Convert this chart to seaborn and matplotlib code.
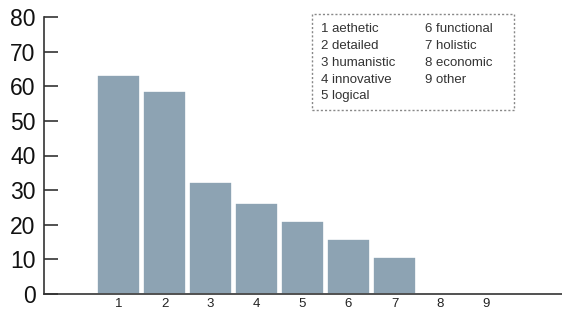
import matplotlib
matplotlib.use("Agg")
import matplotlib.pyplot as plt
from matplotlib.patches import Rectangle
import seaborn as sns
import pandas as pd

# -----------------------------
# Data
# -----------------------------
categories = ["1", "2", "3", "4", "5", "6", "7", "8", "9"]
counts = [63.2, 58.6, 32.3, 26.3, 21.1, 15.9, 10.7, 0, 0]
names = ["aethetic", "detailed", "humanistic", "innovative", "logical",
         "functional", "holistic", "economic", "other"]

df = pd.DataFrame({"category": categories, "count": counts})

# -----------------------------
# Style
# -----------------------------
sns.set_style("white")
plt.rcParams["font.family"] = ["Liberation Sans", "DejaVu Sans"]

fig = plt.figure(figsize=(5.62, 3.11), dpi=100)
ax = fig.add_axes([44 / 562, 17 / 311, (562 - 44) / 562, (294 - 17) / 311])

sns.barplot(data=df, x="category", y="count", color="#8da3b3", saturation=1,
            width=0.92, edgecolor="white", linewidth=1.2, ax=ax)

ax.set_xlim(-1.62, 9.64)
ax.set_ylim(0, 80)
ax.set_yticks(range(0, 81, 10))
ax.set_xlabel("")
ax.set_ylabel("")

for side in ["top", "right"]:
    ax.spines[side].set_visible(False)
for side in ["left", "bottom"]:
    ax.spines[side].set_color("#333333")
    ax.spines[side].set_linewidth(1.2)

ax.tick_params(axis="y", left=True, direction="in", length=10, width=1.2,
               color="#333333", labelsize=16.5, labelcolor="#111111", pad=6)
ax.tick_params(axis="x", bottom=False, length=0, labelsize=9.5,
               labelcolor="#222222", pad=3)

# -----------------------------
# Legend box (manual, two columns)
# -----------------------------
box_x0, box_y0 = 312 / 562, 1 - 110 / 311
box_w, box_h = (514 - 312) / 562, (110 - 14) / 311
fig.patches.append(Rectangle((box_x0, box_y0), box_w, box_h, transform=fig.transFigure,
                             fill=False, edgecolor="#888888", linestyle=(0, (1.5, 1.5)),
                             linewidth=1.0))

row_y = [29, 46, 63, 80, 96]
for i, (cat, name) in enumerate(zip(categories, names)):
    col_x = 321 if i < 5 else 425
    y = row_y[i % 5]
    fig.text(col_x / 562, 1 - y / 311, f"{cat} {name}", fontsize=9.5,
             color="#333333", va="center", ha="left")

fig.savefig("out.png", dpi=100)
